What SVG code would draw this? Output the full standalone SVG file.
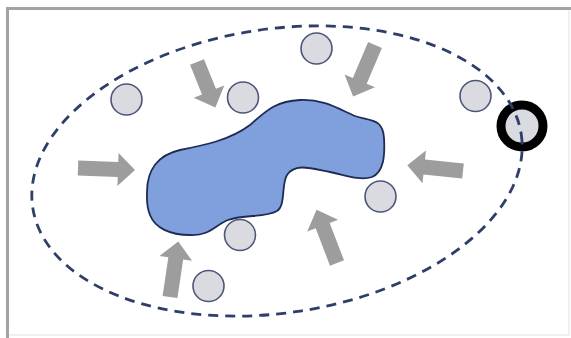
<svg xmlns="http://www.w3.org/2000/svg" width="571" height="338" viewBox="0 0 571 338">
<defs>
<style>
.frame{fill:none;stroke:#a3a3a3;stroke-width:3}
.faint{fill:none;stroke:#f0f0f0;stroke-width:2}
.dot{fill:#d9dbe0;stroke:#4b5679;stroke-width:1.6}
.ring{fill:#d9dbe0;stroke:#000;stroke-width:9}
.arrow{fill:#9d9d9d}
.blob{fill:#7f9fdd;stroke:#1f2b52;stroke-width:1.8}
.orbit{fill:none;stroke:#2f3d6b;stroke-width:2.8;stroke-dasharray:10 7}
</style>
</defs>
<rect width="571" height="338" fill="#fff"/>
<g id="frame">
<path class="faint" d="M9 335 H569 V10"/>
<path class="frame" d="M7.5 338 V8.5 H571"/>
</g>
<g id="blob">
<path class="blob" d="M147,192 C147,170 158,155 180,150 C205,145 230,140 250,125 C265,112 275,101 300,100 C325,99 340,110 355,116 C370,121 383,118 384,138 C385,155 384,172 372,177 C360,181 345,175 330,172 C310,168 295,163 287,175 C281,185 286,205 277,211 C265,218 245,214 228,220 C215,225 210,236 190,235 C170,235 155,228 150,215 C146,205 147,198 147,192 Z"/>
</g>
<g id="particles">
<circle id="p1" class="dot" cx="126.5" cy="99.5" r="15.5"/>
<circle id="p2" class="dot" cx="243" cy="97.5" r="15.5"/>
<circle id="p3" class="dot" cx="316.5" cy="48.5" r="15.5"/>
<circle id="p4" class="dot" cx="475.5" cy="96" r="15.5"/>
<circle id="p5" class="ring" cx="522" cy="126" r="21"/>
<circle id="p6" class="dot" cx="380.5" cy="196.5" r="15.5"/>
<circle id="p7" class="dot" cx="240" cy="235" r="15.5"/>
<circle id="p8" class="dot" cx="208.5" cy="286" r="15.5"/>
</g>
<g id="arrows">
<polygon id="a1" class="arrow" transform="translate(78 168) rotate(2)" points="0,-7.5 40,-7.5 40,-16.5 57,0 40,16.5 40,7.5 0,7.5"/>
<polygon id="a2" class="arrow" transform="translate(197 62) rotate(68)" points="0,-7.5 32,-7.5 32,-16.5 49,0 32,16.5 32,7.5 0,7.5"/>
<polygon id="a3" class="arrow" transform="translate(375 45) rotate(113)" points="0,-7.5 39,-7.5 39,-16.5 56,0 39,16.5 39,7.5 0,7.5"/>
<polygon id="a4" class="arrow" transform="translate(463 171) rotate(186)" points="0,-7.5 39,-7.5 39,-16.5 56,0 39,16.5 39,7.5 0,7.5"/>
<polygon id="a5" class="arrow" transform="translate(337 263) rotate(249)" points="0,-7.5 40,-7.5 40,-16.5 57,0 40,16.5 40,7.5 0,7.5"/>
<polygon id="a6" class="arrow" transform="translate(170 297) rotate(-81.5)" points="0,-7.5 39,-7.5 39,-16.5 56,0 39,16.5 39,7.5 0,7.5"/>
</g>
<g id="connectors">
<ellipse class="orbit" cx="277" cy="171" rx="247" ry="142" transform="rotate(-8.5 277 171)"/>
</g>
</svg>
